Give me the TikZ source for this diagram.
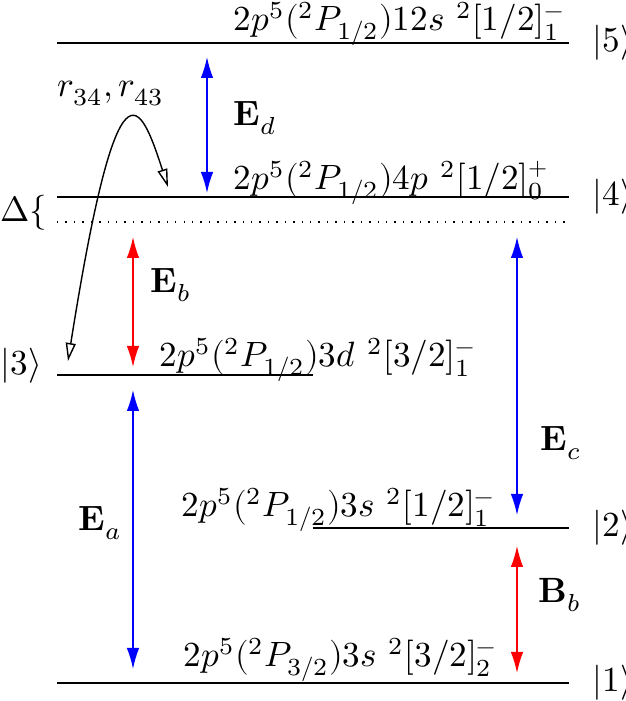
\documentclass[tikz,border=0pt]{standalone}
\usepackage{amsmath,unicode-math}
\usetikzlibrary{arrows.meta}

\tikzset{
    level/.style = {line width=0.6pt},
    lbl/.style = {inner sep=0pt},
    field/.style = {{Latex[length=2.1mm,width=1.25mm]}-{Latex[length=2.1mm,width=1.25mm]}},
    rate/.style = {{Triangle[open,length=1.8mm,width=1mm]}-{Triangle[open,length=1.8mm,width=1mm]}},
}

\begin{document}
\begin{tikzpicture}
    \useasboundingbox (0,0) rectangle (6.25,7.01);
    % levels
    \coordinate (a5) at (0.57,6.58); \coordinate (b5) at (5.69,6.58);
    \coordinate (a4) at (0.57,5.04); \coordinate (b4) at (5.69,5.04);
    \coordinate (dl) at (0.57,4.79); \coordinate (dr) at (5.69,4.79);
    \coordinate (a3) at (0.57,3.26); \coordinate (b3) at (3.13,3.26);
    \coordinate (a2) at (3.13,1.73); \coordinate (b2) at (5.69,1.73);
    \coordinate (a1) at (0.57,0.18); \coordinate (b1) at (5.69,0.18);
    \draw[level] (a5)--(b5);
    \draw[level] (a4)--(b4);
    \draw[dotted] (dl)--(dr);
    \draw[level] (a3)--(b3);
    \draw[level] (a2)--(b2);
    \draw[level] (a1)--(b1);

    \node[lbl, anchor = base west] (t5) at (2.33,6.70) {$2p^5({}^2P_{1/2})12s\ {}^2[1/2]^-_1$};
    \node[lbl, anchor = base west] (t4) at (2.33,5.11) {$2p^5({}^2P_{1/2})4p\ {}^2[1/2]^+_0$};
    \node[lbl, anchor = base west] (t3) at (1.59,3.34) {$2p^5({}^2P_{1/2})3d\ {}^2[3/2]^-_1$};
    \node[lbl, anchor = base west] (t2) at (1.81,1.84) {$2p^5({}^2P_{1/2})3s\ {}^2[1/2]^-_1$};
    \node[lbl, anchor = base west] (t1) at (1.83,0.34) {$2p^5({}^2P_{3/2})3s\ {}^2[3/2]^-_2$};

    \node[lbl, anchor = west] (k5) at (5.92,6.58) {$|5\rangle$};
    \node[lbl, anchor = west] (k4) at (5.92,5.04) {$|4\rangle$};
    \node[lbl, anchor = west] (k3) at (0,3.35) {$|3\rangle$};
    \node[lbl, anchor = west] (k2) at (5.92,1.73) {$|2\rangle$};
    \node[lbl, anchor = west] (k1) at (5.92,0.18) {$|1\rangle$};
    \node[lbl, anchor = base west] (delta) at (0,4.79) {$\Delta\{$};

    % fields
    \coordinate (d5) at (2.07,6.44); \coordinate (d4) at (2.07,5.08);
    \coordinate (e4) at (1.33,4.64); \coordinate (e3) at (1.33,3.34);
    \coordinate (f3) at (1.33,3.11); \coordinate (f1) at (1.33,0.32);
    \coordinate (g4) at (5.17,4.64); \coordinate (g2) at (5.17,1.86);
    \coordinate (h2) at (5.17,1.55); \coordinate (h1) at (5.17,0.28);
    \draw[field, blue] (d5)--(d4);
    \draw[field, red] (e4)--(e3);
    \draw[field, blue] (f3)--(f1);
    \draw[field, blue] (g4)--(g2);
    \draw[field, red] (h2)--(h1);
    \node[lbl, anchor = west] (Ed) at (2.33,5.83) {$\mathbf{E}_d$};
    \node[lbl, anchor = west] (Eb) at (1.50,4.16) {$\mathbf{E}_b$};
    \node[lbl, anchor = west] (Ea) at (0.78,1.78) {$\mathbf{E}_a$};
    \node[lbl, anchor = west] (Ec) at (5.40,2.58) {$\mathbf{E}_c$};
    \node[lbl, anchor = west] (Bb) at (5.38,1.06) {$\mathbf{B}_b$};

    % decay
    \coordinate (r3) at (0.68,3.40);
    \coordinate (r4) at (1.68,5.14);
    \draw[rate] (r3) .. controls (1.18,6.56) and (1.40,6.00) .. (r4);
    \node[lbl, anchor = base west] (rr) at (0.57,6.04) {$r_{34}, r_{43}$};
\end{tikzpicture}
\end{document}
